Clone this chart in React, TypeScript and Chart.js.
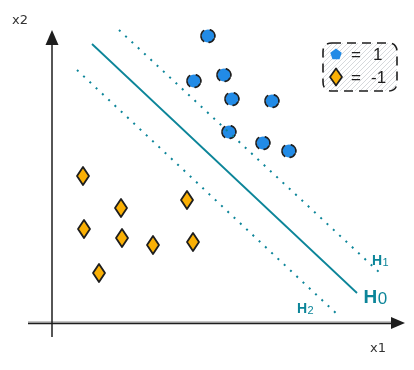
import React, { useEffect, useRef } from "react";
import { Chart, registerables } from "chart.js";

Chart.register(...registerables);

// ---- data (x1, x2 in plot units; origin at the axes crossing) ----
const CLASS_LABELS = ["1", "-1"];
const POS_X = [7.8, 7.1, 8.6, 9.0, 11.0, 8.85, 10.55, 11.85];
const POS_Y = [14.35, 12.1, 12.4, 11.2, 11.1, 9.55, 9.0, 8.6];
const NEG_X = [1.55, 3.45, 6.75, 1.6, 3.5, 5.05, 7.05, 2.35];
const NEG_Y = [7.35, 5.75, 6.15, 4.7, 4.25, 3.9, 4.05, 2.5];

const H0_X = [2.0, 15.25];
const H0_Y = [13.95, 1.5];
const H1_X = [3.35, 16.4];
const H1_Y = [14.65, 2.5];
const H2_X = [1.25, 14.35];
const H2_Y = [12.65, 0.35];

const H_NAMES = ["H0", "H1", "H2"];
const H_LABEL_X = [16.15, 16.4, 12.65];
const H_LABEL_Y = [1.35, 3.15, 0.75];

const AXIS_TITLES = ["x1", "x2"];
const AXIS_X_EXTENT = [-1.2, 17.65];
const AXIS_Y_EXTENT = [-0.7, 14.65];
const AXIS_TITLE_X = [16.3, -1.6];
const AXIS_TITLE_Y = [-1.3, 15.1];

const SCALE_X = [-2.2, 17.7];
const SCALE_Y = [-1.95, 15.75];

const BLUE = "#228be6";
const ORANGE = "#fab005";
const TEAL = "#0c8599";
const INK = "#1e1e1e";

function makeCircle(): HTMLCanvasElement {
  const c = document.createElement("canvas");
  c.width = 18;
  c.height = 18;
  const g = c.getContext("2d")!;
  g.fillStyle = BLUE;
  g.beginPath();
  g.arc(9, 9, 6.5, 0, Math.PI * 2);
  g.fill();
  g.strokeStyle = INK;
  g.lineWidth = 1.7;
  g.lineCap = "round";
  g.beginPath();
  g.arc(8.6, 9, 6.6, Math.PI * 0.7, Math.PI * 1.3);
  g.stroke();
  g.beginPath();
  g.arc(9.3, 9.2, 6.6, Math.PI * 1.6, Math.PI * 2.05);
  g.stroke();
  g.beginPath();
  g.arc(9.1, 8.8, 6.7, Math.PI * 0.15, Math.PI * 0.45);
  g.stroke();
  return c;
}

function makeDiamond(): HTMLCanvasElement {
  const c = document.createElement("canvas");
  c.width = 16;
  c.height = 22;
  const g = c.getContext("2d")!;
  g.beginPath();
  g.moveTo(8, 2);
  g.lineTo(14, 11);
  g.lineTo(8, 20);
  g.lineTo(2, 11);
  g.closePath();
  g.fillStyle = ORANGE;
  g.fill();
  g.strokeStyle = INK;
  g.lineWidth = 1.8;
  g.lineJoin = "round";
  g.stroke();
  return c;
}

function pts(xs: number[], ys: number[]) {
  return xs.map((x, i) => ({ x, y: ys[i] }));
}

const axesPlugin = {
  id: "sketchAxes",
  beforeDatasetsDraw(chart: any) {
    const { ctx, scales } = chart;
    const sx = scales.x;
    const sy = scales.y;
    const ox = sx.getPixelForValue(0);
    const oy = sy.getPixelForValue(0);
    const xl = sx.getPixelForValue(AXIS_X_EXTENT[0]);
    const xr = sx.getPixelForValue(AXIS_X_EXTENT[1]);
    const yb = sy.getPixelForValue(AXIS_Y_EXTENT[0]);
    const yt = sy.getPixelForValue(AXIS_Y_EXTENT[1]);
    ctx.save();
    ctx.strokeStyle = "#8a8a8a";
    ctx.lineWidth = 1;
    ctx.beginPath();
    ctx.moveTo(xl, oy - 1);
    ctx.lineTo(xr - 12, oy - 1);
    ctx.stroke();
    ctx.strokeStyle = INK;
    ctx.lineWidth = 1.5;
    ctx.beginPath();
    ctx.moveTo(xl, oy + 0.5);
    ctx.lineTo(xr - 12, oy + 0.5);
    ctx.stroke();
    ctx.beginPath();
    ctx.moveTo(ox, yb);
    ctx.lineTo(ox, yt + 12);
    ctx.stroke();
    ctx.fillStyle = INK;
    ctx.beginPath();
    ctx.moveTo(xr, oy);
    ctx.lineTo(xr - 14, oy - 6);
    ctx.lineTo(xr - 14, oy + 6);
    ctx.closePath();
    ctx.fill();
    ctx.beginPath();
    ctx.moveTo(ox, yt);
    ctx.lineTo(ox - 6.5, yt + 15);
    ctx.lineTo(ox + 6.5, yt + 15);
    ctx.closePath();
    ctx.fill();
    ctx.restore();
  },
};

function drawSub(ctx: any, name: string, x: number, y: number, big: number, small: number, color: string) {
  const main = name.slice(0, 1);
  const sub = name.slice(1);
  const fam = `"Liberation Sans", Arial, sans-serif`;
  ctx.save();
  ctx.fillStyle = color;
  ctx.textBaseline = "alphabetic";
  ctx.font = `bold ${big}px ${fam}`;
  const wMain = ctx.measureText(main).width;
  ctx.font = `${small}px ${fam}`;
  const wSub = ctx.measureText(sub).width;
  const left = x - (wMain + wSub) / 2;
  const base = y + big * 0.36;
  ctx.font = `bold ${big}px ${fam}`;
  ctx.fillText(main, left, base);
  ctx.font = `${small}px ${fam}`;
  ctx.fillText(sub, left + wMain + 0.5, base + big * 0.08);
  ctx.restore();
}

const labelsPlugin = {
  id: "sketchLabels",
  afterDatasetsDraw(chart: any) {
    const { ctx, scales } = chart;
    const sx = scales.x;
    const sy = scales.y;
    const sizes = [
      [19, 17],
      [14, 11],
      [14, 11],
    ];
    H_NAMES.forEach((n, i) => {
      drawSub(ctx, n, sx.getPixelForValue(H_LABEL_X[i]), sy.getPixelForValue(H_LABEL_Y[i]), sizes[i][0], sizes[i][1], TEAL);
    });
    AXIS_TITLES.forEach((t, i) => {
      ctx.save();
      ctx.fillStyle = "#333";
      ctx.font = `13px "DejaVu Sans", sans-serif`;
      ctx.textAlign = "center";
      ctx.textBaseline = "middle";
      ctx.fillText(t, sx.getPixelForValue(AXIS_TITLE_X[i]), sy.getPixelForValue(AXIS_TITLE_Y[i]));
      ctx.restore();
    });
  },
};

function roundRectPath(ctx: any, x: number, y: number, w: number, h: number, r: number) {
  ctx.beginPath();
  ctx.moveTo(x + r, y);
  ctx.lineTo(x + w - r, y);
  ctx.quadraticCurveTo(x + w, y, x + w, y + r);
  ctx.lineTo(x + w, y + h - r);
  ctx.quadraticCurveTo(x + w, y + h, x + w - r, y + h);
  ctx.lineTo(x + r, y + h);
  ctx.quadraticCurveTo(x, y + h, x, y + h - r);
  ctx.lineTo(x, y + r);
  ctx.quadraticCurveTo(x, y, x + r, y);
  ctx.closePath();
}

const legendPlugin = {
  id: "sketchLegend",
  afterDraw(chart: any) {
    const { ctx, chartArea } = chart;
    const w = 74;
    const h = 48;
    const x = chartArea.right - 9 - w;
    const y = chartArea.top + 35;
    ctx.save();
    roundRectPath(ctx, x, y, w, h, 9);
    ctx.save();
    ctx.clip();
    ctx.strokeStyle = "#d6d9dc";
    ctx.lineWidth = 1;
    for (let k = -h; k < w + h; k += 5) {
      ctx.beginPath();
      ctx.moveTo(x + k, y + h);
      ctx.lineTo(x + k + h, y);
      ctx.stroke();
    }
    ctx.restore();
    roundRectPath(ctx, x, y, w, h, 9);
    ctx.setLineDash([9, 6]);
    ctx.strokeStyle = INK;
    ctx.lineWidth = 1.6;
    ctx.stroke();
    ctx.setLineDash([]);

    const rows = [y + 11, y + 34];
    const cx = x + 13;
    ctx.fillStyle = BLUE;
    ctx.beginPath();
    for (let i = 0; i < 5; i++) {
      const a = -Math.PI / 2 + (i * 2 * Math.PI) / 5;
      const px = cx + 6 * Math.cos(a);
      const py = rows[0] + 0.5 + 6 * Math.sin(a);
      if (i === 0) ctx.moveTo(px, py);
      else ctx.lineTo(px, py);
    }
    ctx.closePath();
    ctx.fill();
    ctx.beginPath();
    ctx.moveTo(cx, rows[1] - 8.5);
    ctx.lineTo(cx + 6, rows[1]);
    ctx.lineTo(cx, rows[1] + 8.5);
    ctx.lineTo(cx - 6, rows[1]);
    ctx.closePath();
    ctx.fillStyle = ORANGE;
    ctx.fill();
    ctx.strokeStyle = INK;
    ctx.lineWidth = 1.7;
    ctx.lineJoin = "round";
    ctx.stroke();

    ctx.fillStyle = INK;
    ctx.font = `17px "Liberation Sans", Arial, sans-serif`;
    ctx.textBaseline = "middle";
    CLASS_LABELS.forEach((lab, i) => {
      ctx.textAlign = "center";
      ctx.fillText("=", x + 33, rows[i] + 1);
      ctx.textAlign = "left";
      ctx.fillText(lab, lab.startsWith("-") ? x + 48 : x + 50, rows[i] + 1);
    });
    ctx.restore();
  },
};

export default function App() {
  const ref = useRef<HTMLCanvasElement | null>(null);
  useEffect(() => {
    if (!ref.current) return;
    const circle = makeCircle();
    const diamond = makeDiamond();
    const chart = new Chart(ref.current, {
      type: "scatter",
      data: {
        datasets: [
          {
            label: "H1",
            data: pts(H1_X, H1_Y),
            showLine: true,
            borderColor: TEAL,
            borderWidth: 2,
            borderDash: [2, 6.6],
            pointRadius: 0,
            fill: false,
          },
          {
            label: "H0",
            data: pts(H0_X, H0_Y),
            showLine: true,
            borderColor: TEAL,
            borderWidth: 1.8,
            pointRadius: 0,
            fill: false,
          },
          {
            label: "H2",
            data: pts(H2_X, H2_Y),
            showLine: true,
            borderColor: TEAL,
            borderWidth: 2,
            borderDash: [2, 6.6],
            pointRadius: 0,
            fill: false,
          },
          {
            label: CLASS_LABELS[0],
            data: pts(POS_X, POS_Y),
            pointStyle: circle as any,
            pointRadius: 7,
            backgroundColor: BLUE,
          },
          {
            label: CLASS_LABELS[1],
            data: pts(NEG_X, NEG_Y),
            pointStyle: diamond as any,
            pointRadius: 8,
            backgroundColor: ORANGE,
          },
        ],
      },
      options: {
        animation: false,
        responsive: true,
        maintainAspectRatio: false,
        layout: { padding: 0, autoPadding: false } as any,
        plugins: { legend: { display: false }, tooltip: { enabled: false } },
        scales: {
          x: { type: "linear", min: SCALE_X[0], max: SCALE_X[1], display: false },
          y: { type: "linear", min: SCALE_Y[0], max: SCALE_Y[1], display: false },
        },
      },
      plugins: [axesPlugin, labelsPlugin, legendPlugin],
    });
    return () => chart.destroy();
  }, []);
  return (
    <div style={{ width: 398, height: 354, position: "relative" }}>
      <canvas ref={ref} />
    </div>
  );
}
